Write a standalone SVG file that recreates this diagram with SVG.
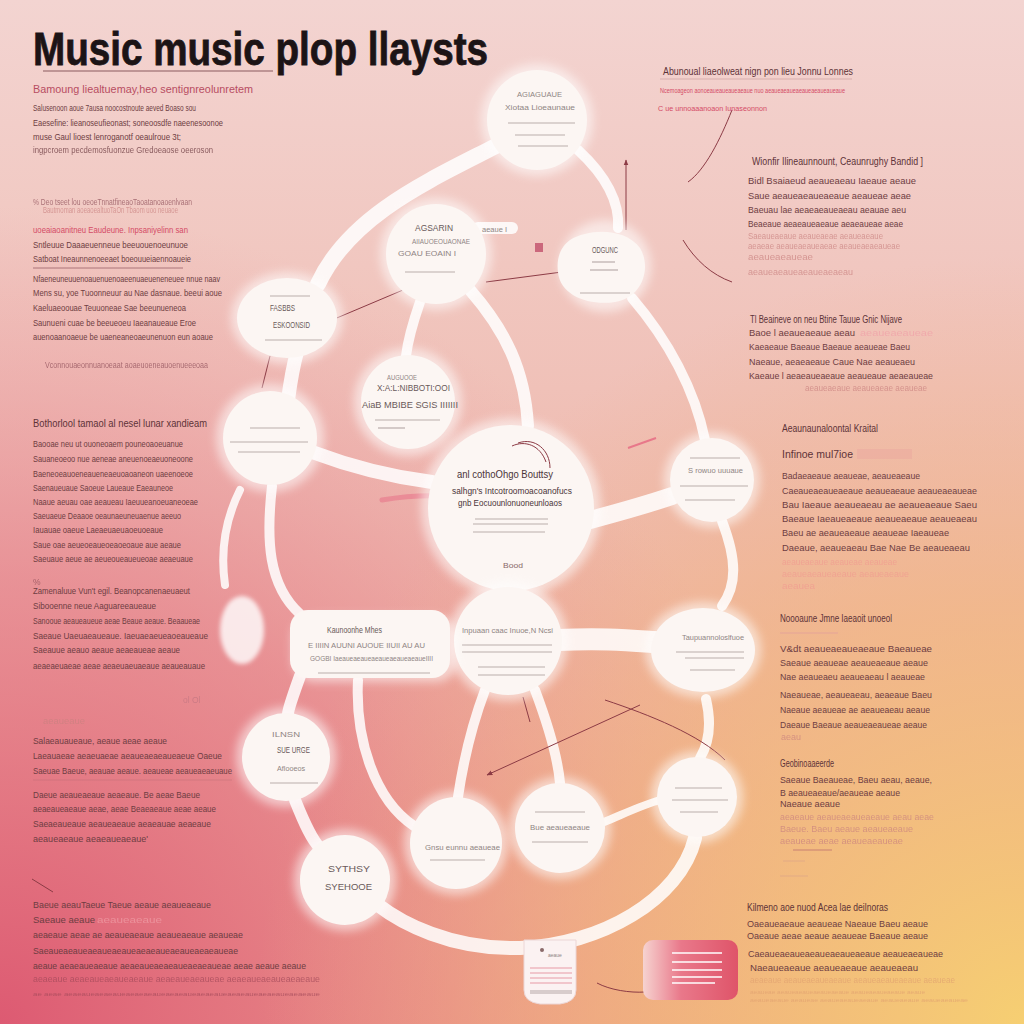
<svg xmlns="http://www.w3.org/2000/svg" width="1024" height="1024" viewBox="0 0 1024 1024">
<defs>
<linearGradient id="bg" x1="0" y1="0" x2="0" y2="1">
<stop offset="0" stop-color="#f3d4d1"/>
<stop offset="0.5" stop-color="#efbbb0"/>
<stop offset="1" stop-color="#eea486"/>
</linearGradient>
<radialGradient id="bl" cx="0" cy="1" r="0.8">
<stop offset="0" stop-color="#dd5a72"/>
<stop offset="0.55" stop-color="#e37487" stop-opacity="0.55"/>
<stop offset="1" stop-color="#e8909c" stop-opacity="0"/>
</radialGradient>
<radialGradient id="br" cx="1" cy="1" r="0.75">
<stop offset="0" stop-color="#f6cf72"/>
<stop offset="0.55" stop-color="#f2b87c" stop-opacity="0.6"/>
<stop offset="1" stop-color="#efb08a" stop-opacity="0"/>
</radialGradient>
<linearGradient id="redcard" x1="0" y1="0" x2="1" y2="0">
<stop offset="0" stop-color="#f6d3d0"/>
<stop offset="0.4" stop-color="#e9788a"/>
<stop offset="1" stop-color="#df5469"/>
</linearGradient>
<filter id="blur" x="-30%" y="-30%" width="160%" height="160%"><feGaussianBlur stdDeviation="5"/></filter>
<filter id="blur2" x="-30%" y="-30%" width="160%" height="160%"><feGaussianBlur stdDeviation="2"/></filter>
<marker id="arr" viewBox="0 0 10 10" refX="9" refY="5" markerWidth="6" markerHeight="6" orient="auto-start-reverse">
<path d="M0 1 L10 5 L0 9 z" fill="#8c3b45"/>
</marker>
<style>
.tx{font-family:"Liberation Sans",Arial,sans-serif}
.ttl{font-size:46px;font-weight:bold;fill:#1c1416;stroke:#1c1416;stroke-width:0.8}
.hd{font-size:11px;fill:#5e3338}
.bd{font-size:9.5px;fill:#6e3d42}
.fd{font-size:8.5px;fill:#c9807f;opacity:.7}
.pk{font-size:9px;fill:#d44b66}
.nd{font-size:7px;fill:#8f8583}
.ndb{font-size:9px;fill:#6a5a5a}
.nl{stroke:#b9aeac;stroke-width:1.2}
.cn{fill:none;stroke:#ffffff;stroke-linecap:round;opacity:.85}
.dl{fill:none;stroke:#8c3b45;stroke-width:1}
.halo{fill:#ffffff;opacity:.55}
.body{fill:#fcf6f3}
</style>
</defs>

<rect width="1024" height="1024" fill="url(#bg)"/>
<rect width="1024" height="1024" fill="url(#bl)"/>
<rect width="1024" height="1024" fill="url(#br)"/>

<!-- connectors -->
<g id="connectors">
<path class="cn" stroke-width="16" d="M 496 146 C 430 180, 350 215, 318 284"/>
<path class="cn" stroke-width="14" d="M 297 352 C 292 370, 290 385, 288 400"/>
<path class="cn" stroke-width="10" d="M 272 486 C 266 540, 268 585, 300 614"/>
<path class="cn" stroke-width="8" opacity=".6" d="M 240 490 C 225 520, 220 550, 225 585"/>
<path class="cn" stroke-width="14" d="M 312 452 C 360 470, 400 478, 432 482"/>
<path class="cn" stroke-width="12" d="M 470 290 C 505 330, 525 370, 528 426"/>
<path class="cn" stroke-width="10" d="M 420 302 C 412 325, 408 340, 406 356"/>
<path class="cn" stroke-width="10" d="M 578 150 C 605 175, 620 200, 618 228"/>
<path class="cn" stroke-width="10" d="M 632 298 C 668 340, 695 390, 705 440"/>
<path class="cn" stroke-width="18" d="M 590 520 C 620 512, 645 505, 672 496"/>
<path class="cn" stroke-width="10" d="M 722 521 C 737 560, 737 585, 722 606"/>
<path class="cn" stroke-width="30" d="M 510 584 L 510 596"/>
<path class="cn" stroke-width="22" d="M 558 640 C 600 638, 625 640, 654 642"/>
<path class="cn" stroke-width="10" d="M 706 699 C 712 725, 708 745, 700 758"/>
<path class="cn" stroke-width="14" d="M 695 838 C 680 900, 600 945, 520 948 C 450 950, 400 922, 378 905"/>
<path class="cn" stroke-width="12" d="M 295 800 C 305 825, 312 840, 320 848"/>
<path class="cn" stroke-width="12" d="M 300 676 C 292 698, 288 710, 288 714"/>
<path class="cn" stroke-width="10" d="M 358 680 C 355 740, 375 800, 414 826"/>
<path class="cn" stroke-width="10" d="M 485 690 C 470 730, 462 770, 458 797"/>
<path class="cn" stroke-width="10" d="M 535 690 C 550 730, 558 760, 560 783"/>
<path class="cn" stroke-width="8" opacity=".5" d="M 604 822 C 628 812, 645 804, 660 800"/>
<path class="cn" stroke-width="12" d="M 478 228 L 512 228"/>

<path class="dl" d="M 332 320 L 403 290"/>
<path class="dl" d="M 486 282 L 562 272"/>
<path class="dl" marker-end="url(#arr)" d="M 626 230 L 626 160"/>
<path class="dl" d="M 732 110 C 720 140, 705 170, 688 182"/>
<path class="dl" d="M 683 240 C 695 260, 712 275, 732 282"/>
<path class="dl" marker-start="url(#arr)" d="M 487 775 L 640 705"/>
<path class="dl" d="M 605 700 C 650 715, 700 735, 725 760"/>
<path class="dl" d="M 32 879 L 53 892"/>
<path class="dl" d="M 270 356 L 262 388"/>
<path class="dl" d="M 523 697 L 530 722"/>
<path class="dl" d="M 597 983 C 610 990, 630 993, 645 992"/>
<path fill="none" stroke="#e87d8e" stroke-width="5" stroke-linecap="round" opacity=".7" d="M 382 500 C 400 497, 420 495, 442 496"/>
<path fill="none" stroke="#e8788a" stroke-width="2" d="M 628 448 L 656 438"/>
<rect x="535" y="243" width="8" height="9" fill="#c2506a" opacity=".8"/>
</g>

<!-- title -->
<g id="title">
<text class="tx ttl" x="33" y="65" textLength="455" lengthAdjust="spacingAndGlyphs">Music music plop llaysts</text>
<line x1="43" y1="71" x2="273" y2="71" stroke="#8a5a5e" stroke-width="1.2"/>
</g>

<!-- left texts -->
<g id="left-text" class="tx">
<text class="hd" x="33" y="93" textLength="220" lengthAdjust="spacingAndGlyphs" style="fill:#b84d62">Bamoung liealtuemay,heo sentignreolunretem</text>
<text class="bd" x="33" y="111" textLength="163" lengthAdjust="spacingAndGlyphs">Salusenoon aoue 7ausa noocostnoute aeved Boaso sou</text>
<text class="bd" x="33" y="126" textLength="190" lengthAdjust="spacingAndGlyphs">Eaesefine: lieanoseufieonast; soneoosdfe naeenesoonoe</text>
<text class="bd" x="33" y="140" textLength="148" lengthAdjust="spacingAndGlyphs">muse Gaul lioest lenroganotf oeaulroue 3t;</text>
<text class="bd" x="33" y="153" textLength="180" lengthAdjust="spacingAndGlyphs" opacity=".8">ingpcroem pecdemosfuonzue Gredoeaose oeeroson</text>

<text class="fd" x="33" y="205" textLength="159" lengthAdjust="spacingAndGlyphs" style="fill:#8a4a55">% Deo tseet lou oeoeTnnatfineaoTaoatanoaoenlvaan</text>
<text class="fd" x="43" y="213" textLength="135" lengthAdjust="spacingAndGlyphs">Bautmoman aoeaoealtuoTaOn Tbaom uoo neuaoe</text>
<text class="pk" x="33" y="233" textLength="155" lengthAdjust="spacingAndGlyphs">uoeaiaoanitneu Eaudeune. Inpsaniyelinn san</text>
<text class="bd" x="33" y="248" textLength="155" lengthAdjust="spacingAndGlyphs">Sntleuue Daaaeuenneue beeuouenoeunuoe</text>
<text class="bd" x="33" y="262" textLength="158" lengthAdjust="spacingAndGlyphs">Satboat Ineaunnenoeeaet boeouueiaennoaueie</text>
<line x1="33" y1="268" x2="183" y2="268" stroke="#9a6068" stroke-width=".8"/>
<text class="bd" x="33" y="282" textLength="187" lengthAdjust="spacingAndGlyphs">Nfaeneuneuuenoauenuenoaeenuaeueneneuee nnue naav</text>
<text class="bd" x="33" y="296" textLength="189" lengthAdjust="spacingAndGlyphs">Mens su, yoe Tuoonneuur au Nae dasnaue. beeui aoue</text>
<text class="bd" x="33" y="311" textLength="153" lengthAdjust="spacingAndGlyphs">Kaeluaeoouae Teuuoneae Sae beeunueneoa</text>
<text class="bd" x="33" y="326" textLength="163" lengthAdjust="spacingAndGlyphs">Saunueni cuae be beeueoeu Iaeanaueaue Eroe</text>
<text class="bd" x="33" y="340" textLength="180" lengthAdjust="spacingAndGlyphs">auenoaanoaeue be uaeneaneoaeunenuon eun aoaue</text>
<text class="fd" x="45" y="368" textLength="163" lengthAdjust="spacingAndGlyphs" style="fill:#8a4a55">Vconnouaeonnuanoeaat aoaeuoeneauoenueeeoaa</text>

<text class="hd" x="33" y="427" textLength="174" lengthAdjust="spacingAndGlyphs">Bothorlool tamaol al nesel lunar xandieam</text>
<text class="bd" x="33" y="447" textLength="150" lengthAdjust="spacingAndGlyphs">Baooae neu ut ouoneoaem pouneoaoeuanue</text>
<text class="bd" x="33" y="462" textLength="160" lengthAdjust="spacingAndGlyphs">Sauaneoeoo nue aeneae aneuenoeaeuoneoone</text>
<text class="bd" x="33" y="477" textLength="160" lengthAdjust="spacingAndGlyphs">Baeneoeauoeneaueneaeuoaoaneon uaeenoeoe</text>
<text class="bd" x="33" y="491" textLength="140" lengthAdjust="spacingAndGlyphs">Saenaueuaue Saoeue Laueaue Eaeauneoe</text>
<text class="bd" x="33" y="505" textLength="165" lengthAdjust="spacingAndGlyphs">Naaue aeuau oae aeaueau Iaeuueanoeuaneoeae</text>
<text class="bd" x="33" y="519" textLength="148" lengthAdjust="spacingAndGlyphs">Saeuaeue Deaaoe oeaunaeuneuaenue aeeuo</text>
<text class="bd" x="33" y="533" textLength="130" lengthAdjust="spacingAndGlyphs">Iauauae oaeue Laeaeuaeuaoeuoeaue</text>
<text class="bd" x="33" y="548" textLength="148" lengthAdjust="spacingAndGlyphs">Saue oae aeueoeaueoeaoeoaue aue aeaue</text>
<text class="bd" x="33" y="562" textLength="160" lengthAdjust="spacingAndGlyphs">Saeuaue aeue ae aeueoueaueueoae aeaeuaue</text>
<text class="fd" x="33" y="585" style="fill:#8a4a55">%</text>
<text class="bd" x="33" y="594" textLength="157" lengthAdjust="spacingAndGlyphs">Zamenaluue Vun't egil. Beanopcanenaeuaeut</text>
<text class="bd" x="33" y="609" textLength="123" lengthAdjust="spacingAndGlyphs">Sibooenne neue Aaguareeaueaue</text>
<text class="bd" x="33" y="624" textLength="167" lengthAdjust="spacingAndGlyphs">Sanooue aeaueaueue aeae Beaue aeaue. Beaaueae</text>
<text class="bd" x="33" y="639" textLength="175" lengthAdjust="spacingAndGlyphs">Saeaue Uaeuaeaueaue. Iaeuaeaeueaoeaueaue</text>
<text class="bd" x="33" y="653" textLength="147" lengthAdjust="spacingAndGlyphs">Saeauue aeauo aeaue aeaeaueae aeaue</text>
<text class="bd" x="33" y="669" textLength="172" lengthAdjust="spacingAndGlyphs">aeaeaeuaeae aeae aeaeuaeuaeaue aeaueauaue</text>

<text class="fd" x="183" y="703" style="fill:#c07580">ol Ol</text>
<text class="fd" x="43" y="724" textLength="42" lengthAdjust="spacingAndGlyphs">aeaueaue</text>
<text class="bd" x="33" y="744" textLength="134" lengthAdjust="spacingAndGlyphs">Salaeauaueaue, aeaue aeae aeaue</text>
<text class="bd" x="33" y="759" textLength="189" lengthAdjust="spacingAndGlyphs">Laeauaeae aeaeuaeae aeaueaeaeaueaeue Oaeue</text>
<text class="bd" x="33" y="774" textLength="199" lengthAdjust="spacingAndGlyphs">Saeuae Baeue, aeauae aeaue. aeaueae aeaueaeaeuaue</text>
<line x1="33" y1="780" x2="232" y2="780" stroke="#b06570" stroke-width=".6" opacity=".6"/>
<text class="bd" x="33" y="798" textLength="167" lengthAdjust="spacingAndGlyphs">Daeue aeaueaeaue aeaeaue. Be aeae Baeue</text>
<text class="bd" x="33" y="812" textLength="183" lengthAdjust="spacingAndGlyphs">aeaeaueaeaue aeae, aeae Beaeaeaue aeae aeaue</text>
<text class="bd" x="33" y="827" textLength="178" lengthAdjust="spacingAndGlyphs">Saeaeaueaue aeaueaeaue aeaeauae aeaeaue</text>
<text class="bd" x="33" y="842" textLength="115" lengthAdjust="spacingAndGlyphs">aeaueaeaue aeaeaueaeaue'</text>

<text class="bd" x="33" y="908" textLength="178" lengthAdjust="spacingAndGlyphs">Baeue aeauTaeue Taeue aeaue aeaueaeaue</text>
<text class="bd" x="33" y="923" textLength="62" lengthAdjust="spacingAndGlyphs">Saeaue aeaue</text>
<text class="fd" x="97" y="923" textLength="65" lengthAdjust="spacingAndGlyphs" style="fill:#f0a0a8">aeaueaeaue</text>
<text class="bd" x="33" y="938" textLength="210" lengthAdjust="spacingAndGlyphs">aeaeaue aeae ae aeaueaeaue aeaueaeaue aeaueae</text>
<text class="bd" x="33" y="954" textLength="205" lengthAdjust="spacingAndGlyphs">Saeaueaeaueaeaueaeaueaeaeaueaeaueaeaeaueae</text>
<text class="bd" x="33" y="969" textLength="273" lengthAdjust="spacingAndGlyphs">aeaue aeaeaueaeaue aeaeaueaeaeaueaeaeaueae aeae aeaue aeaue</text>
<text class="fd" x="33" y="982" textLength="287" lengthAdjust="spacingAndGlyphs" style="fill:#a04858">aeaeaue aeaeaueaeaueaeaue aeaeaueaeaueae aeaeaueaeaueaeaeaue</text>
<text class="fd" x="33" y="996" textLength="287" lengthAdjust="spacingAndGlyphs" style="fill:#a04858;font-size:6px">ae aeae aeaeaueaeaeaueaeaeaeaueaeaeaueaeaeaueaeaeaueaeaeaueaeaeaue</text>
</g>

<!-- right texts -->
<g id="right-text" class="tx">
<text class="hd" x="663" y="75" textLength="190" lengthAdjust="spacingAndGlyphs" style="font-size:10px">Abunoual liaeolweat nign pon lieu Jonnu Lonnes</text>
<line x1="660" y1="79" x2="852" y2="79" stroke="#c89898" stroke-width=".6"/>
<text class="pk" x="660" y="93" textLength="185" lengthAdjust="spacingAndGlyphs" style="font-size:7px">Ncemoageon aonoeaueaueaueaeaue nuo aeaueaeaueaeaueaeaueaueaue</text>
<text class="pk" x="658" y="111" textLength="109" lengthAdjust="spacingAndGlyphs" style="font-size:7px">C ue unnoaaanoaon Iunaseonnon</text>

<text class="hd" x="752" y="165" textLength="171" lengthAdjust="spacingAndGlyphs">Wionfir Ilineaunnount, Ceaunrughy Bandid ]</text>
<text class="bd" x="748" y="184" textLength="168" lengthAdjust="spacingAndGlyphs">Bidl Bsaiaeud aeaueaeau Iaeaue aeaue</text>
<text class="bd" x="748" y="199" textLength="163" lengthAdjust="spacingAndGlyphs">Saue aeaueaeaueaeaue aeaueae aeae</text>
<text class="bd" x="748" y="213" textLength="158" lengthAdjust="spacingAndGlyphs">Baeuau lae aeaeaeaueaeau aeauae aeu</text>
<text class="bd" x="748" y="227" textLength="155" lengthAdjust="spacingAndGlyphs">Beaeaue aeaeaueaeaue aeaeaueae aeae</text>
<text class="fd" x="748" y="239" textLength="135" lengthAdjust="spacingAndGlyphs">Saeaueaeaue aeaueaeae aeaueaeaue</text>
<text class="fd" x="748" y="249" textLength="152" lengthAdjust="spacingAndGlyphs">aeaeae aeaueaeaueaeae aeaueaeaeaueae</text>
<text class="fd" x="748" y="260" textLength="65" lengthAdjust="spacingAndGlyphs">aeaueaeaueae</text>
<text class="fd" x="748" y="275" textLength="105" lengthAdjust="spacingAndGlyphs">aeaueaeaueaeaueaeaeau</text>

<text class="hd" x="750" y="323" textLength="152" lengthAdjust="spacingAndGlyphs" style="font-size:10px">Tl Beaineve on neu Btine Tauue Gnic Nijave</text>
<text class="bd" x="749" y="336" textLength="106" lengthAdjust="spacingAndGlyphs">Baoe l aeaueaeaue aeau</text>
<text class="fd" x="860" y="336" textLength="73" lengthAdjust="spacingAndGlyphs" style="fill:#f0a0a8">aeaueaeaueae</text>
<text class="bd" x="749" y="350" textLength="161" lengthAdjust="spacingAndGlyphs">Kaeaeaue Baeaue Baeaue aeaueae Baeu</text>
<text class="bd" x="749" y="365" textLength="166" lengthAdjust="spacingAndGlyphs">Naeaue, aeaeaeaue Caue Nae aeaueaeu</text>
<text class="bd" x="749" y="379" textLength="184" lengthAdjust="spacingAndGlyphs">Kaeaue l aeaeaueaeaue aeaueaue aeaeaueae</text>
<text class="fd" x="805" y="391" textLength="122" lengthAdjust="spacingAndGlyphs">aeaueaeaue aeaueaeae aeaueae</text>

<text class="hd" x="782" y="432" textLength="96" lengthAdjust="spacingAndGlyphs" style="font-size:10px">Aeaunaunaloontal Kraital</text>
<text class="hd" x="782" y="458" textLength="71" lengthAdjust="spacingAndGlyphs">Infinoe mul7ioe</text>
<rect x="857" y="449" width="55" height="10" fill="#e79a9a" opacity=".3"/>
<text class="bd" x="782" y="479" textLength="138" lengthAdjust="spacingAndGlyphs">Badaeaeaue aeaueae, aeaueaeaue</text>
<text class="bd" x="782" y="494" textLength="195" lengthAdjust="spacingAndGlyphs">Caeaueaeaueaeaue aeaueaeaue aeaueaeaueae</text>
<text class="bd" x="782" y="508" textLength="195" lengthAdjust="spacingAndGlyphs">Bau Iaeaue aeaueaeau ae aeaueaeaue Saeu</text>
<text class="bd" x="782" y="522" textLength="195" lengthAdjust="spacingAndGlyphs">Baeaue Iaeaueaeaue aeaueaeaue aeaueaeau</text>
<text class="bd" x="782" y="536" textLength="167" lengthAdjust="spacingAndGlyphs">Baeu ae aeaueaeaue aeaueae Iaeaueae</text>
<text class="bd" x="782" y="551" textLength="188" lengthAdjust="spacingAndGlyphs">Daeaue, aeaueaeau Bae Nae Be aeaueaeau</text>
<text class="fd" x="782" y="565" textLength="115" lengthAdjust="spacingAndGlyphs" style="fill:#f09a90">aeaueaeaue aeaueae aeaueae</text>
<text class="fd" x="782" y="577" textLength="127" lengthAdjust="spacingAndGlyphs" style="fill:#f09a90">aeaueaeaueaeaue aeaueaeaue</text>
<text class="fd" x="782" y="589" textLength="33" lengthAdjust="spacingAndGlyphs" style="fill:#f09a90">aeauea</text>

<text class="hd" x="780" y="622" textLength="112" lengthAdjust="spacingAndGlyphs" style="font-size:10px">Noooaune Jmne Iaeaoit unoeol</text>
<line x1="780" y1="633" x2="838" y2="633" stroke="#e3a29a" stroke-width="1.5" opacity=".6"/>
<text class="bd" x="780" y="652" textLength="152" lengthAdjust="spacingAndGlyphs">V&amp;dt aeaueaeaueaeaue Baeaueae</text>
<text class="bd" x="780" y="666" textLength="148" lengthAdjust="spacingAndGlyphs">Saeaue aeaueae aeaueaeaue aeaue</text>
<text class="bd" x="780" y="680" textLength="145" lengthAdjust="spacingAndGlyphs">Nae aeaueaeu aeaueaeau l aeaueae</text>
<text class="bd" x="780" y="698" textLength="152" lengthAdjust="spacingAndGlyphs">Naeaueae, aeaueaeau, aeaeaue Baeu</text>
<text class="bd" x="780" y="713" textLength="150" lengthAdjust="spacingAndGlyphs">Naeaue aeaueae ae aeaueaeau aeaue</text>
<text class="bd" x="780" y="728" textLength="147" lengthAdjust="spacingAndGlyphs">Daeaue Baeaue aeaueaeaueae aeaue</text>
<text class="fd" x="781" y="740" textLength="20" lengthAdjust="spacingAndGlyphs">aeau</text>
<text class="hd" x="780" y="767" textLength="54" lengthAdjust="spacingAndGlyphs" style="font-size:10px">Geobinoaaeerde</text>
<text class="bd" x="780" y="783" textLength="152" lengthAdjust="spacingAndGlyphs">Saeaue Baeaueae, Baeu aeau, aeaue,</text>
<text class="bd" x="780" y="796" textLength="120" lengthAdjust="spacingAndGlyphs">B aeaueaeaue/aeaueae aeaue</text>
<text class="bd" x="780" y="807" textLength="60" lengthAdjust="spacingAndGlyphs">Naeaue aeaue</text>
<text class="fd" x="780" y="820" textLength="154" lengthAdjust="spacingAndGlyphs">aeaeaue aeaueaeaueaeaue aeau aeae</text>
<text class="fd" x="780" y="832" textLength="133" lengthAdjust="spacingAndGlyphs">Baeue. Baeu aeaue aeaueaeaue</text>
<text class="fd" x="780" y="844" textLength="123" lengthAdjust="spacingAndGlyphs">aeaueae aeae aeaueaeaueae</text>
<line x1="793" y1="850" x2="832" y2="850" stroke="#c47a70" stroke-width="1.5" opacity=".6"/>
<line x1="783" y1="861" x2="805" y2="861" stroke="#d49a8a" stroke-width="1" opacity=".5"/>
<line x1="780" y1="876" x2="808" y2="876" stroke="#d49a8a" stroke-width="1" opacity=".5"/>

<text class="hd" x="747" y="911" textLength="141" lengthAdjust="spacingAndGlyphs">Kilmeno aoe nuod Acea lae deilnoras</text>
<text class="bd" x="747" y="927" textLength="181" lengthAdjust="spacingAndGlyphs">Oaeaueaeaue aeaueae Naeaue Baeu aeaue</text>
<text class="bd" x="747" y="939" textLength="181" lengthAdjust="spacingAndGlyphs">Oaeaue aeae aeaue aeaueae Baeaue aeaue</text>
<text class="bd" x="748" y="957" textLength="195" lengthAdjust="spacingAndGlyphs">Caeaueaeaueaeaueaeaueaeaue aeaueaeaueae</text>
<text class="bd" x="750" y="971" textLength="168" lengthAdjust="spacingAndGlyphs">Naeaueaeaue aeaueaeaue aeaueaeau</text>
<text class="fd" x="750" y="983" textLength="205" lengthAdjust="spacingAndGlyphs" style="fill:#e0a070">aeaeaue aeaueaeaueaeaue aeaueaeaueaeaue aeaueae</text>
<text class="fd" x="750" y="994" textLength="175" lengthAdjust="spacingAndGlyphs" style="fill:#e0a070;font-size:6px">aeaueae aeaueaeaueaeaueaeaue aeaueaeaueaeaue aeaue</text>
<text class="fd" x="750" y="1002" textLength="218" lengthAdjust="spacingAndGlyphs" style="fill:#e0a070;font-size:6px">aeaueaeaue aeaueae aeaueaeaueaeaue aeaueaeaue aeaueaeaueae</text>
</g>

<!-- nodes -->
<g id="node-1" class="tx">
<circle class="halo" cx="537" cy="120" r="56" filter="url(#blur)"/>
<circle class="body" cx="537" cy="120" r="50"/>
<text class="nd" x="517" y="97" textLength="45" lengthAdjust="spacingAndGlyphs">AGIAGUAUE</text>
<text class="nd" x="505" y="110" textLength="70" lengthAdjust="spacingAndGlyphs">Xiotaa Lioeaunaue</text>
<line class="nl" x1="508" y1="123" x2="575" y2="123"/>
<line class="nl" x1="515" y1="135" x2="565" y2="135"/>
<line class="nl" x1="518" y1="146" x2="568" y2="146"/>
</g>

<g id="node-2" class="tx">
<circle class="halo" cx="436" cy="254" r="56" filter="url(#blur)"/>
<circle class="body" cx="436" cy="254" r="50"/>
<text class="ndb" x="415" y="231" textLength="38" lengthAdjust="spacingAndGlyphs">AGSARIN</text>
<text class="nd" x="412" y="244" textLength="58" lengthAdjust="spacingAndGlyphs">AIIAUOEOUAONAE</text>
<text class="nd" x="398" y="256" textLength="58" lengthAdjust="spacingAndGlyphs">GOAU  EOAIN I</text>
<line class="nl" x1="405" y1="272" x2="455" y2="272"/>
<text class="nd" x="482" y="232" textLength="25" lengthAdjust="spacingAndGlyphs">aeaue I</text>
</g>

<g id="node-3" class="tx">
<circle class="halo" cx="605" cy="266" r="46" filter="url(#blur)"/>
<path class="body" d="M 570 240 C 590 228, 625 228, 640 248 C 652 268, 642 298, 615 302 C 590 306, 560 296, 558 272 C 556 256, 562 246, 570 240 Z"/>
<text class="ndb" x="592" y="253" textLength="26" lengthAdjust="spacingAndGlyphs">ODGUNC</text>
<line class="nl" x1="592" y1="262" x2="615" y2="262"/>
<line class="nl" x1="590" y1="270" x2="618" y2="270"/>
<line class="nl" x1="580" y1="293" x2="630" y2="293"/>
</g>

<g id="node-4" class="tx">
<ellipse class="halo" cx="287" cy="318" rx="56" ry="46" filter="url(#blur)"/>
<ellipse class="body" cx="287" cy="318" rx="50" ry="40"/>
<line class="nl" x1="270" y1="296" x2="310" y2="296"/>
<text class="ndb" x="270" y="311" textLength="25" lengthAdjust="spacingAndGlyphs">FASBBS</text>
<text class="ndb" x="273" y="328" textLength="37" lengthAdjust="spacingAndGlyphs">ESKOONSID</text>
<line class="nl" x1="265" y1="340" x2="322" y2="340"/>
</g>

<g id="node-5" class="tx">
<circle class="halo" cx="408" cy="402" r="54" filter="url(#blur)"/>
<circle class="body" cx="408" cy="402" r="47"/>
<text class="nd" x="387" y="380" textLength="30" lengthAdjust="spacingAndGlyphs">AUGUOOE</text>
<text class="ndb" x="377" y="391" textLength="73" lengthAdjust="spacingAndGlyphs">X:A:L:NIBBOTI:OOI</text>
<text class="ndb" x="362" y="408" textLength="96" lengthAdjust="spacingAndGlyphs">AiaB  MBIBE SGIS  IIIIIII</text>
<line class="nl" x1="375" y1="420" x2="440" y2="420"/>
<line class="nl" x1="378" y1="428" x2="405" y2="428"/>
</g>

<g id="node-6" class="tx">
<circle class="halo" cx="270" cy="438" r="54" filter="url(#blur)"/>
<circle class="body" cx="270" cy="438" r="47"/>
<line class="nl" x1="250" y1="428" x2="300" y2="428"/>
<line class="nl" x1="230" y1="442" x2="308" y2="442"/>
<line class="nl" x1="238" y1="452" x2="300" y2="452"/>
</g>

<g id="node-central" class="tx">
<circle class="halo" cx="511" cy="508" r="90" filter="url(#blur)"/>
<circle class="body" cx="511" cy="508" r="83"/>
<path class="dl" d="M 512 446 C 525 440, 540 445, 546 462"/>
<path class="dl" d="M 518 443 C 535 437, 550 450, 550 468"/>
<text class="tx" x="457" y="478" textLength="96" lengthAdjust="spacingAndGlyphs" style="font-size:11px;fill:#4a3438">anl cothoOhgo Bouttsy</text>
<text class="tx" x="452" y="494" textLength="120" lengthAdjust="spacingAndGlyphs" style="font-size:9px;fill:#4a3438">salhgn's Intcotroomoacoanofucs</text>
<text class="tx" x="458" y="506" textLength="104" lengthAdjust="spacingAndGlyphs" style="font-size:9px;fill:#4a3438">gnb Eocuounlonuoneunloaos</text>
<line class="nl" x1="475" y1="519" x2="548" y2="519"/>
<line class="nl" x1="473" y1="524" x2="548" y2="524"/>
<line class="nl" x1="473" y1="532" x2="545" y2="532"/>
<text class="tx" x="503" y="568" textLength="20" lengthAdjust="spacingAndGlyphs" style="font-size:8px;fill:#8a6a6a">Bood</text>
</g>

<g id="node-8" class="tx">
<circle class="halo" cx="712" cy="480" r="48" filter="url(#blur)"/>
<circle class="body" cx="712" cy="480" r="42"/>
<line class="nl" x1="690" y1="458" x2="740" y2="458"/>
<text class="nd" x="688" y="473" textLength="55" lengthAdjust="spacingAndGlyphs">S rowuo uuuaue</text>
<line class="nl" x1="680" y1="486" x2="748" y2="486"/>
<line class="nl" x1="685" y1="500" x2="735" y2="500"/>
</g>

<g id="node-9" class="tx">
<circle class="halo" cx="508" cy="641" r="60" filter="url(#blur)"/>
<circle class="body" cx="508" cy="641" r="54"/>
<text class="nd" x="462" y="633" textLength="91" lengthAdjust="spacingAndGlyphs">Inpuaan caac  Inuoe,N Ncsi</text>
<line class="nl" x1="462" y1="645" x2="552" y2="645"/>
<line class="nl" x1="462" y1="652" x2="552" y2="652"/>
<line class="nl" x1="478" y1="667" x2="545" y2="667"/>
<line class="nl" x1="478" y1="675" x2="545" y2="675"/>
</g>

<g id="node-10" class="tx">
<rect x="292" y="616" width="166" height="66" rx="22" fill="#ffffff" opacity=".55" filter="url(#blur)"/>
<rect x="290" y="610" width="160" height="68" rx="18" class="body"/>
<text class="ndb" x="327" y="633" textLength="55" lengthAdjust="spacingAndGlyphs">Kaunoonhe Mhes</text>
<text class="nd" x="308" y="648" textLength="117" lengthAdjust="spacingAndGlyphs">E IIIIN AUUNI AUOUE IIUII AU  AU</text>
<text class="nd" x="310" y="661" textLength="123" lengthAdjust="spacingAndGlyphs">GOGBI  IaeaueaeaueaeaueaeaueaeaueIIII</text>
<line class="nl" x1="318" y1="673" x2="430" y2="673"/>
</g>

<g id="node-11" class="tx">
<ellipse class="halo" cx="703" cy="650" rx="58" ry="48" filter="url(#blur)"/>
<ellipse class="body" cx="703" cy="650" rx="52" ry="42"/>
<text class="nd" x="682" y="640" textLength="62" lengthAdjust="spacingAndGlyphs">Taupuannoloslfuoe</text>
<line class="nl" x1="676" y1="652" x2="744" y2="652"/>
<line class="nl" x1="685" y1="658" x2="744" y2="658"/>
<line class="nl" x1="690" y1="670" x2="735" y2="670"/>
</g>

<g id="node-12" class="tx">
<circle class="halo" cx="286" cy="757" r="50" filter="url(#blur)"/>
<circle class="body" cx="286" cy="757" r="44"/>
<text class="nd" x="272" y="737" textLength="28" lengthAdjust="spacingAndGlyphs">ILNSN</text>
<text class="ndb" x="277" y="753" textLength="33" lengthAdjust="spacingAndGlyphs">SUE URGE</text>
<text class="nd" x="277" y="771" textLength="28" lengthAdjust="spacingAndGlyphs">Aflooeos</text>
<line class="nl" x1="270" y1="783" x2="318" y2="783"/>
</g>

<g id="node-13" class="tx">
<circle class="halo" cx="456" cy="843" r="52" filter="url(#blur)"/>
<circle class="body" cx="456" cy="843" r="46"/>
<text class="nd" x="425" y="850" textLength="75" lengthAdjust="spacingAndGlyphs">Gnsu eunnu  aeaueae</text>
<line class="nl" x1="430" y1="860" x2="485" y2="860"/>
</g>

<g id="node-14" class="tx">
<circle class="halo" cx="560" cy="828" r="51" filter="url(#blur)"/>
<circle class="body" cx="560" cy="828" r="45"/>
<line class="nl" x1="535" y1="812" x2="585" y2="812"/>
<text class="nd" x="530" y="830" textLength="60" lengthAdjust="spacingAndGlyphs">Bue aeaueaeaue</text>
<line class="nl" x1="532" y1="842" x2="588" y2="842"/>
</g>

<g id="node-15" class="tx">
<circle class="halo" cx="697" cy="797" r="46" filter="url(#blur)"/>
<circle class="body" cx="697" cy="797" r="40"/>
<line class="nl" x1="675" y1="788" x2="722" y2="788"/>
<line class="nl" x1="672" y1="800" x2="728" y2="800"/>
<line class="nl" x1="680" y1="812" x2="718" y2="812"/>
</g>

<g id="node-16" class="tx">
<circle class="halo" cx="345" cy="880" r="51" filter="url(#blur)"/>
<circle class="body" cx="345" cy="880" r="45"/>
<text class="ndb" x="328" y="872" textLength="42" lengthAdjust="spacingAndGlyphs">SYTHSY</text>
<text class="ndb" x="325" y="890" textLength="47" lengthAdjust="spacingAndGlyphs">SYEHOOE</text>
</g>

<g id="node-17">
<ellipse cx="242" cy="630" rx="22" ry="34" fill="#ffffff" opacity=".8" filter="url(#blur2)"/>
</g>

<g id="card" class="tx">
<path d="M 524 940 L 576 940 L 576 990 Q 576 1002 560 1004 L 540 1004 Q 524 1002 524 990 Z" fill="#fbf2f2" stroke="#ecd6d6" stroke-width="1"/>
<circle cx="542" cy="950" r="2" fill="#8a6a6a"/>
<text class="nd" x="548" y="957" style="font-size:5px">aeaue</text>
<line x1="530" y1="968" x2="572" y2="968" stroke="#e79aa6" stroke-width="1"/>
<line x1="530" y1="973" x2="572" y2="973" stroke="#e79aa6" stroke-width="1"/>
<line x1="530" y1="978" x2="572" y2="978" stroke="#e79aa6" stroke-width="1"/>
<line x1="530" y1="983" x2="572" y2="983" stroke="#e79aa6" stroke-width="1"/>
<rect x="530" y="990" width="42" height="4" fill="#d8cccc"/>
</g>

<g id="red-card">
<rect x="643" y="940" width="95" height="60" rx="10" fill="url(#redcard)"/>
<line x1="672" y1="953" x2="722" y2="953" stroke="#ffffff" stroke-width="1.5"/>
<line x1="672" y1="962" x2="722" y2="962" stroke="#ffffff" stroke-width="1.5"/>
<line x1="672" y1="970" x2="722" y2="970" stroke="#ffffff" stroke-width="1.5"/>
<line x1="672" y1="977" x2="722" y2="977" stroke="#ffffff" stroke-width="1.5"/>
<line x1="672" y1="983" x2="715" y2="983" stroke="#ffffff" stroke-width="1.5"/>
</g>
</svg>
